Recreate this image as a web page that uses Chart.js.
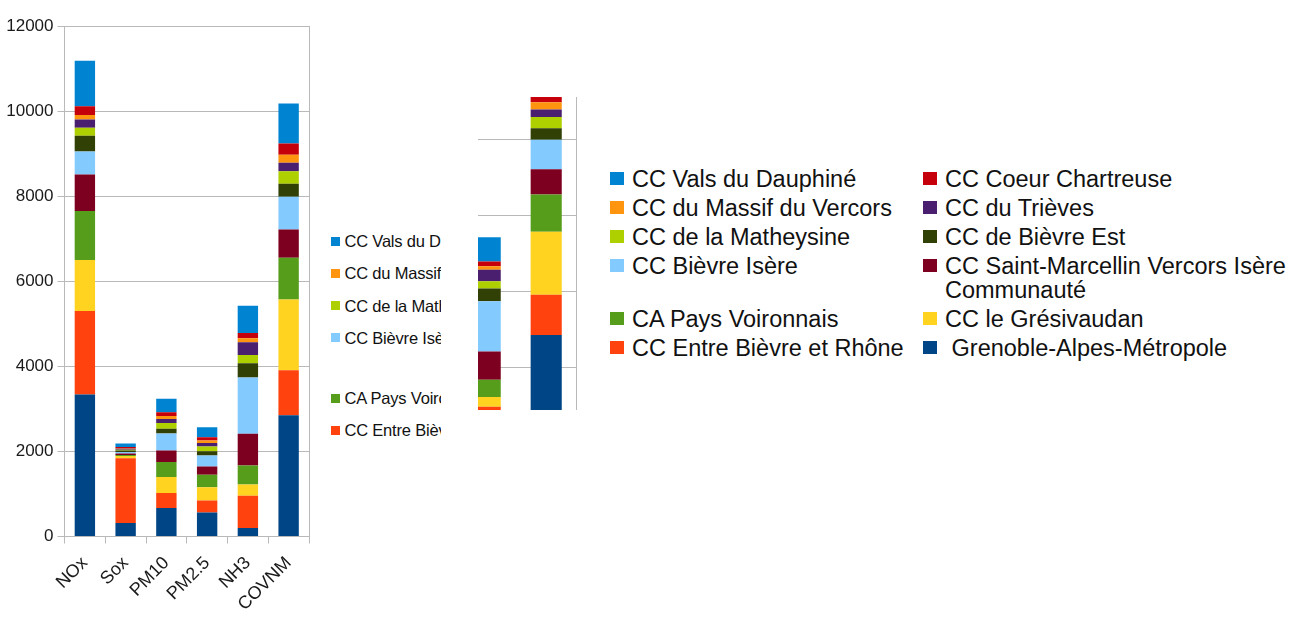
<!DOCTYPE html>
<html>
<head>
<meta charset="utf-8">
<script src="https://cdn.jsdelivr.net/npm/chart.js@4.4.1/dist/chart.umd.min.js"></script>
<style>
html,body{margin:0;padding:0;background:#fff;width:1296px;height:619px;overflow:hidden;font-family:"Liberation Sans",Arial,sans-serif;}
#left{position:absolute;left:0;top:0;width:441px;height:619px;overflow:hidden;}
#c1{position:absolute;left:0;top:0;}
#leg1{position:absolute;left:331px;top:227px;display:grid;grid-template-columns:200px 270px;row-gap:4.3px;font-size:16.5px;line-height:28px;color:#111;letter-spacing:-0.2px;}
#leg1 .sw{width:9px;height:9px;margin-top:9.5px;margin-right:4.5px;}
#clip2{position:absolute;left:478px;top:97px;width:100px;height:313px;overflow:hidden;}
#c2{position:absolute;left:-328px;top:-157px;}
#leg2{position:absolute;left:610px;top:166.5px;display:grid;grid-template-columns:313px 380px;row-gap:5px;font-size:23.5px;line-height:24px;color:#111;}
#leg2 .sw{width:14px;height:13px;margin-top:5.5px;margin-right:8px;}
.item{display:flex;align-items:flex-start;}
.sw{flex:none;}
.tx{white-space:pre-wrap;}
</style>
</head>
<body>
<div id="left">
  <canvas id="c1" width="330" height="619"></canvas>
  <div id="leg1"></div>
</div>
<div id="clip2"><canvas id="c2" width="450" height="560"></canvas></div>
<div id="leg2"></div>
<script>
// ---- data ----
const categories = ["NOx", "Sox", "PM10", "PM2.5", "NH3", "COVNM"];
const yMax = 12000;
const yStep = 2000;

// series (stack order bottom -> top)
const seriesNames = [
  " Grenoble-Alpes-Métropole",
  "CC Entre Bièvre et Rhône",
  "CC le Grésivaudan",
  "CA Pays Voironnais",
  "CC Saint-Marcellin Vercors Isère Communauté",
  "CC Bièvre Isère",
  "CC de Bièvre Est",
  "CC de la Matheysine",
  "CC du Trièves",
  "CC du Massif du Vercors",
  "CC Coeur Chartreuse",
  "CC Vals du Dauphiné"
];
const grenoble      = [3340, 320, 670, 565, 200, 2850];
const entreBievre   = [1960, 1520, 350, 280, 760, 1060];
const gresivaudan   = [1200, 50, 380, 315, 260, 1660];
const paysVoironnais= [1150, 25, 350, 290, 450, 980];
const saintMarcellin= [860, 35, 270, 195, 745, 665];
const bievreIsere   = [540, 35, 400, 260, 1320, 770];
const bievreEst     = [370, 35, 110, 100, 340, 305];
const matheysine    = [190, 20, 140, 110, 190, 295];
const trieves       = [190, 20, 90, 80, 300, 200];
const massifVercors = [110, 10, 70, 60, 95, 190];
const coeurChartreuse=[205, 35, 90, 80, 125, 265];
const valsDauphine  = [1070, 80, 320, 235, 640, 940];

const seriesValues = [grenoble, entreBievre, gresivaudan, paysVoironnais, saintMarcellin,
  bievreIsere, bievreEst, matheysine, trieves, massifVercors, coeurChartreuse, valsDauphine];
const seriesColors = ["#004586", "#ff420e", "#ffd320", "#579d1c", "#7e0021", "#83caff",
  "#314004", "#aecf00", "#4b1f6f", "#ff950e", "#c5000b", "#0084d1"];

// ---- build ----
const FONT = '"Liberation Sans", Arial, sans-serif';
const GRID = '#b9b9b9';
function makeDatasets(){
  return seriesNames.map((n,i)=>({label:n, data:seriesValues[i], backgroundColor:seriesColors[i], borderWidth:0, stack:'s'}));
}

new Chart(document.getElementById('c1'), {
  type:'bar',
  data:{labels:categories, datasets:makeDatasets()},
  options:{
    responsive:false, animation:false,
    layout:{padding:{left:0,right:21,top:26,bottom:0}},
    plugins:{legend:{display:false}, tooltip:{enabled:false}},
    datasets:{bar:{categoryPercentage:1, barPercentage:0.5}},
    scales:{
      x:{stacked:true,
         grid:{offset:true, drawOnChartArea:false, drawTicks:true, tickLength:7, color:GRID},
         border:{display:true, color:GRID},
         ticks:{minRotation:45, maxRotation:45, autoSkip:false, color:'#1a1a1a', padding:9, font:{family:FONT, size:18}},
         afterFit:s=>{s.height=82.5;}},
      y:{stacked:true, min:0, max:yMax,
         ticks:{stepSize:yStep, color:'#1a1a1a', padding:4, font:{family:FONT, size:17},
                callback:v=>String(v)},
         grid:{color:GRID, tickLength:7},
         border:{color:GRID},
         afterFit:s=>{s.width=64.5;}},
      yr:{position:'right', min:0, max:yMax,
         ticks:{display:false}, grid:{display:false, drawTicks:false},
         border:{display:true, color:GRID},
         afterFit:s=>{s.width=0;}}
    }
  }
});

new Chart(document.getElementById('c2'), {
  type:'bar',
  data:{labels:categories, datasets:makeDatasets()},
  options:{
    responsive:false, animation:false,
    layout:{padding:{left:60.7,right:23.3,top:47.3,bottom:56.7}},
    plugins:{legend:{display:false}, tooltip:{enabled:false}},
    datasets:{bar:{categoryPercentage:1, barPercentage:0.51}},
    scales:{
      x:{stacked:true, display:false},
      y:{stacked:true, min:0, max:yMax,
         ticks:{display:false, stepSize:yStep},
         grid:{color:GRID, drawTicks:false},
         border:{display:false},
         afterFit:s=>{s.width=0;}},
      yr:{position:'right', min:0, max:yMax,
         ticks:{display:false}, grid:{display:false, drawTicks:false},
         border:{display:true, color:GRID},
         afterFit:s=>{s.width=0;}}
    }
  }
});

// ---- HTML legends (two columns, reverse stack order) ----
function buildLegend(id){
  const el = document.getElementById(id);
  for (let i = seriesNames.length-1; i >= 0; i--){
    const item = document.createElement('div'); item.className='item';
    const sw = document.createElement('div'); sw.className='sw'; sw.style.background=seriesColors[i];
    const tx = document.createElement('div'); tx.className='tx'; tx.textContent=seriesNames[i];
    item.appendChild(sw); item.appendChild(tx); el.appendChild(item);
  }
}
buildLegend('leg1');
buildLegend('leg2');
</script>
</body>
</html>
